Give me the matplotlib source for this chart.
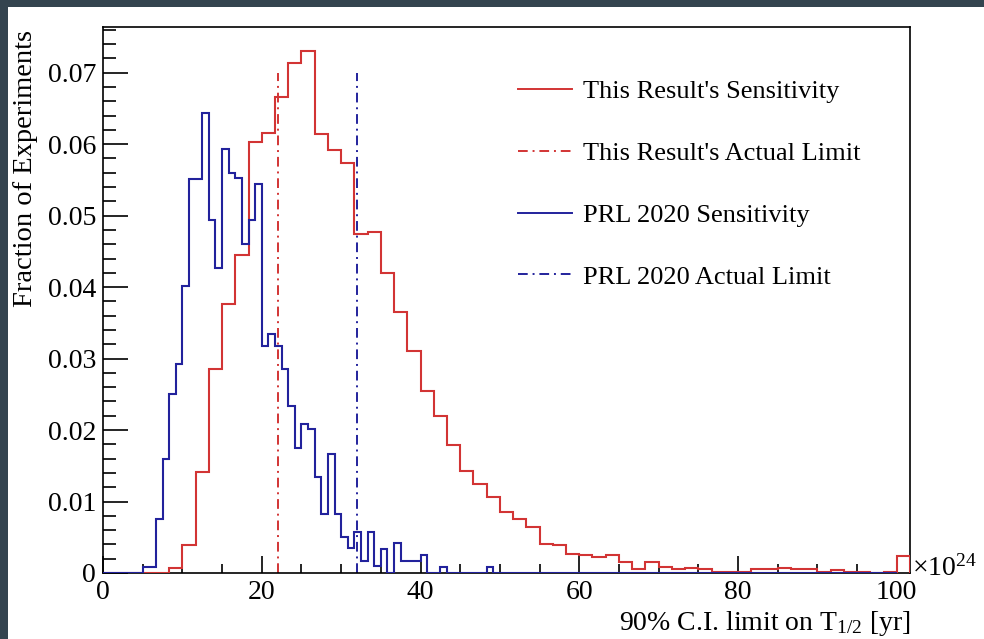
import numpy as np
from matplotlib import pyplot as plt
from matplotlib.lines import Line2D
from matplotlib.patches import Rectangle
import matplotlib.ticker as mtick

plt.rcParams['font.family'] = ['Liberation Serif', 'DejaVu Serif']
plt.rcParams['mathtext.fontset'] = 'custom'
plt.rcParams['mathtext.rm'] = 'Liberation Serif'
plt.rcParams['mathtext.it'] = 'Liberation Serif:italic'

# red histogram: 61 bins of width 100/60 starting at 0 (x in units of 1e24 yr)
red_width = 100 / 60
red_frac = [0, 0, 0, 0, 0, 0.0007, 0.0039, 0.0141, 0.0285, 0.0377,
            0.0445, 0.0603, 0.0616, 0.0666, 0.0713, 0.0730, 0.0614, 0.0592, 0.0574, 0.0474,
            0.0477, 0.0420, 0.0365, 0.0310, 0.0255, 0.0220, 0.0179, 0.0143, 0.0125, 0.0106,
            0.0086, 0.0076, 0.0064, 0.0041, 0.0039, 0.0027, 0.0025, 0.0022, 0.0025, 0.0015,
            0.0006, 0.0015, 0.0008, 0.0005, 0.0007, 0.0005, 0.0001, 0.0002, 0.0002, 0.0006,
            0.0005, 0.0007, 0.0005, 0.0006, 0.0002, 0.0004, 0.0001, 0.0002, 0.0, 0.0001,
            0.0024]

# blue histogram: 120 bins of width 100/120
blue_width = 100 / 120
blue_frac = [0, 0, 0, 0, 0, 0, 0.0009, 0.0009, 0.0075, 0.0159,
             0.0250, 0.0292, 0.0401, 0.0552, 0.0552, 0.0643, 0.0494, 0.0427, 0.0593, 0.0560,
             0.0553, 0.0461, 0.0494, 0.0544, 0.0318, 0.0334, 0.0318, 0.0285, 0.0234, 0.0175,
             0.0209, 0.0201, 0.0134, 0.0083, 0.0167, 0.0083, 0.0051, 0.0035, 0.0058, 0.0017,
             0.0058, 0.0010, 0.0034, 0.0, 0.0042, 0.0017, 0.0017, 0.0017, 0.0025, 0.0,
             0.0, 0.0009, 0, 0, 0, 0, 0, 0, 0.0009, 0]
blue_frac = blue_frac + [0] * (120 - len(blue_frac))

this_limit = 22.0
prl_limit = 32.0
limit_top = 0.07

labels = ["This Result's Sensitivity", "This Result's Actual Limit",
          "PRL 2020 Sensitivity", "PRL 2020 Actual Limit"]

red = '#d23434'
blue = '#22229c'
dashdot = (0, (5, 2.5, 1, 2.5))

W, H = 984, 639
fig = plt.figure(figsize=(W / 100, H / 100), dpi=100, facecolor='#34444f')
fig.add_artist(Rectangle((8 / W, 0), 1, (H - 7) / H, transform=fig.transFigure,
                         facecolor='white', edgecolor='none', zorder=0))
ax = fig.add_axes([103 / W, 1 - 573 / H, (910 - 103) / W, (573 - 27) / H])

red_edges = np.arange(len(red_frac) + 1) * red_width
blue_edges = np.arange(len(blue_frac) + 1) * blue_width
ax.stairs(red_frac, red_edges, color=red, linewidth=1.5, zorder=3)
ax.stairs(blue_frac, blue_edges, color=blue, linewidth=1.5, zorder=3)
ax.plot([this_limit, this_limit], [0, limit_top], color=red, lw=1.4, linestyle=dashdot)
ax.plot([prl_limit, prl_limit], [0, limit_top], color=blue, lw=1.4, linestyle=dashdot)

ax.set_xlim(0, 101 + 2 / 3)
ax.set_ylim(0, 0.0764)
ax.xaxis.set_major_locator(mtick.MultipleLocator(20))
ax.xaxis.set_minor_locator(mtick.MultipleLocator(5))
ax.yaxis.set_major_locator(mtick.MultipleLocator(0.01))
ax.yaxis.set_minor_locator(mtick.MultipleLocator(0.002))
ax.yaxis.set_major_formatter(mtick.FuncFormatter(lambda v, p: '0' if abs(v) < 1e-9 else '%.2f' % v))
ax.tick_params(which='both', direction='in', top=False, right=False, width=1.2, labelsize=20)
ax.tick_params(axis='y', which='major', length=18, pad=5)
ax.tick_params(axis='y', which='minor', length=9)
ax.tick_params(axis='x', which='major', length=12, pad=5)
ax.tick_params(axis='x', which='minor', length=6.5)
for s in ax.spines.values():
    s.set_linewidth(1.2)

ax.set_xlabel(r'90% C.I. limit on T$_{1/2}$ [yr]', loc='right', fontsize=20, labelpad=3)
fig.text(26 / W, 1 - 30 / H, 'Fraction of Experiments', rotation=90, ha='center', va='top', fontsize=20.5)
ax.text(1.002, -0.004, r'$\times$10$^{24}$', transform=ax.transAxes, ha='left', va='baseline', fontsize=20)

handles = [Line2D([], [], color=red, lw=1.4),
           Line2D([], [], color=red, lw=1.4, linestyle=dashdot),
           Line2D([], [], color=blue, lw=1.4),
           Line2D([], [], color=blue, lw=1.4, linestyle=dashdot)]
ax.legend(handles, labels, loc='upper left', bbox_to_anchor=(518 / W, 1 - 80 / H),
          bbox_transform=fig.transFigure, frameon=False, fontsize=19, borderpad=0,
          borderaxespad=0, handlelength=2.05, handletextpad=0.42, labelspacing=1.45)

fig.savefig('out.png', dpi=100, facecolor=fig.get_facecolor())
